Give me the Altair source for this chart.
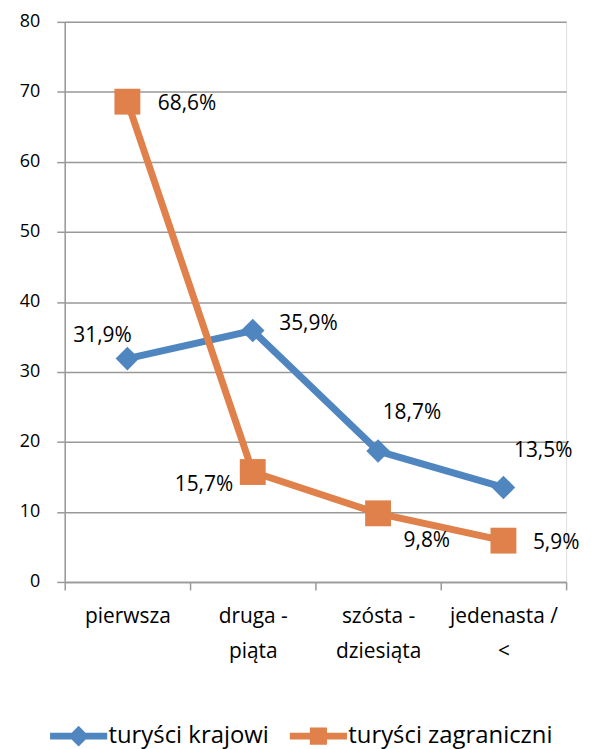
import altair as alt
import pandas as pd

categories = ["pierwsza", "druga - piąta", "szósta - dziesiąta", "jedenasta / <"]
series_names = ["turyści krajowi", "turyści zagraniczni"]
krajowi = [31.9, 35.9, 18.7, 13.5]
zagraniczni = [68.6, 15.7, 9.8, 5.9]
y_ticks = [0, 10, 20, 30, 40, 50, 60, 70, 80]

BLUE = "#4F86C0"
ORANGE = "#E0804A"
FONT = "Open Sans"

# where each category label wraps onto a second line
wrap_after = {"druga - piąta": 7, "szósta - dziesiąta": 8, "jedenasta / <": 11}

def wrap(c):
    n = wrap_after.get(c)
    return c if n is None else c[:n] + "|" + c[n + 1:]

cat_wrapped = [wrap(c) for c in categories]

rows = []
for i, c in enumerate(categories):
    rows.append({"cat": cat_wrapped[i], "series": series_names[0], "value": krajowi[i], "idx": i})
    rows.append({"cat": cat_wrapped[i], "series": series_names[1], "value": zagraniczni[i], "idx": i})
df = pd.DataFrame(rows)
df["label"] = df["value"].map(lambda v: f"{v:.1f}".replace(".", ",") + "%")
df["legend_series"] = df["series"]

# label offsets (styling), keyed by (series, index)
offsets = {
    (series_names[0], 0): (-25, -23),
    (series_names[0], 1): (56, -7),
    (series_names[0], 2): (34, -38),
    (series_names[0], 3): (40, -37),
    (series_names[1], 0): (60, 2),
    (series_names[1], 1): (-49, 13),
    (series_names[1], 2): (49, 28),
    (series_names[1], 3): (53, 2),
}

x_enc = alt.X(
    "cat:N",
    sort=cat_wrapped,
    title=None,
    scale=alt.Scale(domain=cat_wrapped, paddingInner=0, paddingOuter=0),
    axis=alt.Axis(
        labelAngle=0,
        labelExpr="datum.label ? split(datum.label, '|') : ''",
        labelFont=FONT,
        labelFontSize=21,
        labelColor="#000000",
        labelPadding=27,
        labelLineHeight=35,
        labelBaseline="middle",
        tickBand="extent",
        tickSize=8,
        tickColor="#999999",
        tickWidth=1.5,
        domainColor="#999999",
        domainWidth=1.5,
        grid=False,
    ),
)
x_plain = alt.X("cat:N", sort=cat_wrapped)

y_enc = alt.Y(
    "value:Q",
    title=None,
    scale=alt.Scale(domain=[0, 80], nice=False, zero=True),
    axis=alt.Axis(
        values=y_ticks,
        labelFont=FONT,
        labelFontSize=18,
        labelColor="#000000",
        labelPadding=17,
        tickSize=8,
        tickColor="#999999",
        tickWidth=1.5,
        domainColor="#999999",
        domainWidth=1.5,
        gridColor="#999999",
        gridWidth=1.5,
    ),
)

color_scale = alt.Scale(domain=series_names, range=[BLUE, ORANGE])
legend_shapes = [
    "M-1,-0.12 L1,-0.12 L1,0.12 L-1,0.12 Z M0,-0.36 L0.36,0 L0,0.36 L-0.36,0 Z",
    "M-1,-0.12 L1,-0.12 L1,0.12 L-1,0.12 Z M-0.3,-0.3 L0.3,-0.3 L0.3,0.3 L-0.3,0.3 Z",
]

base = alt.Chart(df)

lines = base.mark_line(strokeWidth=7).encode(
    x=x_enc,
    y=y_enc,
    color=alt.Color("series:N", scale=color_scale, legend=None),
    detail="series:N",
)

pts_blue = base.transform_filter(alt.datum.series == series_names[0]).mark_point(
    shape="diamond", filled=True, opacity=1, size=560
).encode(x=x_plain, y="value:Q", color=alt.Color("series:N", scale=color_scale, legend=None))

pts_orange = base.transform_filter(alt.datum.series == series_names[1]).mark_point(
    shape="square", filled=True, opacity=1, size=676
).encode(x=x_plain, y="value:Q", color=alt.Color("series:N", scale=color_scale, legend=None))

# legend-only layer: no marks drawn, explicit domains keep both entries
legend_layer = base.transform_filter("false").mark_point(filled=True, opacity=1).encode(
    x=x_plain,
    y="value:Q",
    color=alt.Color(
        "legend_series:N",
        scale=alt.Scale(domain=series_names, range=[BLUE, ORANGE]),
        legend=alt.Legend(
            title=None,
            orient="none",
            legendX=-15,
            legendY=689,
            direction="horizontal",
            padding=0,
            symbolSize=3300,
            symbolOpacity=1,
            symbolStrokeWidth=0,
            labelFont=FONT,
            labelFontSize=24,
            labelColor="#000000",
            labelOffset=1,
            columnPadding=20,
            labelLimit=400,
        ),
    ),
    shape=alt.Shape(
        "legend_series:N",
        scale=alt.Scale(domain=series_names, range=legend_shapes),
    ),
)

text_layers = []
for (s, i), (dx, dy) in offsets.items():
    t = base.transform_filter(
        (alt.datum.series == s) & (alt.datum.idx == i)
    ).mark_text(
        dx=dx, dy=dy, align="center", baseline="middle", font=FONT, fontSize=21, color="#000000"
    ).encode(x=x_plain, y="value:Q", text="label:N")
    text_layers.append(t)

chart = alt.layer(lines, pts_blue, pts_orange, legend_layer, *text_layers).resolve_scale(
    color="independent", shape="independent"
).properties(
    width=504,
    height=563,
    autosize=alt.AutoSizeParams(type="none"),
    padding={"left": 57, "top": 12, "right": 22, "bottom": 166},
).configure_view(stroke=None).configure(background="white")

chart.save("out.html", embed_options={"renderer": "svg", "actions": False})
